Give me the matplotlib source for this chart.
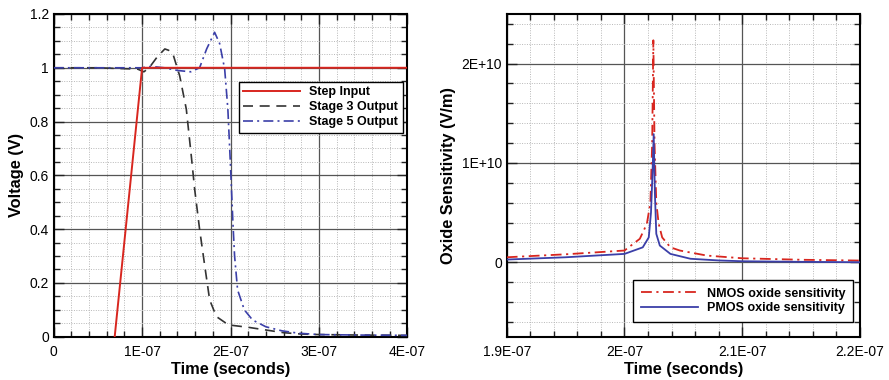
import matplotlib
matplotlib.use("Agg")
import matplotlib.pyplot as plt
from matplotlib.ticker import FixedLocator, MultipleLocator

plt.rcParams['font.family'] = ['Liberation Sans', 'DejaVu Sans']

# ---------------- data: left panel (Voltage vs time) ----------------
step_t = [6.9e-8, 1.0e-7, 4.0e-7]
step_v = [0.0, 1.0, 1.0]

stage3_t = [0.0, 0.5e-7, 0.95e-7, 1.02e-7, 1.08e-7, 1.17e-7, 1.257e-7, 1.30e-7, 1.35e-7,
            1.425e-7, 1.5e-7, 1.557e-7, 1.595e-7, 1.65e-7, 1.71e-7, 1.764e-7, 1.84e-7,
            1.95e-7, 2.0e-7, 2.2e-7, 2.4e-7, 2.6e-7, 2.8e-7, 3.0e-7, 3.5e-7, 4.0e-7]
stage3_v = [1.0, 1.0, 0.995, 0.985, 1.0, 1.04, 1.07, 1.065, 1.05,
            0.97, 0.846, 0.67, 0.547, 0.40, 0.26, 0.137, 0.075,
            0.05, 0.043, 0.035, 0.025, 0.015, 0.01, 0.008, 0.006, 0.005]

stage5_t = [0.0, 0.5e-7, 1.0e-7, 1.1e-7, 1.25e-7, 1.4e-7, 1.55e-7, 1.65e-7, 1.73e-7,
            1.82e-7, 1.877e-7, 1.934e-7, 1.97e-7, 2.0e-7, 2.027e-7, 2.046e-7, 2.08e-7,
            2.156e-7, 2.25e-7, 2.4e-7, 2.58e-7, 2.77e-7, 3.0e-7, 3.5e-7, 4.0e-7]
stage5_v = [1.0, 1.0, 1.0, 1.005, 1.0, 0.99, 0.985, 1.0, 1.07,
            1.132, 1.09, 0.995, 0.846, 0.634, 0.424, 0.30, 0.174,
            0.10, 0.062, 0.037, 0.022, 0.013, 0.008, 0.006, 0.005]

left_xticks = [0.0, 1e-7, 2e-7, 3e-7, 4e-7]
left_xlabels = ['0', '1E-07', '2E-07', '3E-07', '4E-07']
left_yticks = [0.0, 0.2, 0.4, 0.6, 0.8, 1.0, 1.2]
left_ylabels = ['0', '0.2', '0.4', '0.6', '0.8', '1', '1.2']

# ---------------- data: right panel (oxide sensitivity) ----------------
nmos_t = [1.9e-7, 1.95e-7, 2.0e-7, 2.013e-7, 2.019e-7, 2.022e-7, 2.0235e-7, 2.0245e-7,
          2.0255e-7, 2.027e-7, 2.029e-7, 2.032e-7, 2.039e-7, 2.047e-7, 2.07e-7,
          2.1e-7, 2.15e-7, 2.2e-7]
nmos_s = [0.05e10, 0.08e10, 0.118e10, 0.236e10, 0.387e10, 0.6e10, 1.2e10, 2.235e10,
          1.2e10, 0.6e10, 0.39e10, 0.25e10, 0.15e10, 0.118e10, 0.067e10,
          0.04e10, 0.025e10, 0.017e10]

pmos_t = [1.9e-7, 1.95e-7, 2.0e-7, 2.0155e-7, 2.0206e-7, 2.0225e-7, 2.0238e-7, 2.0248e-7,
          2.0258e-7, 2.027e-7, 2.030e-7, 2.039e-7, 2.056e-7, 2.08e-7, 2.1e-7, 2.15e-7, 2.2e-7]
pmos_s = [0.027e10, 0.05e10, 0.084e10, 0.15e10, 0.25e10, 0.5e10, 0.9e10, 1.29e10,
          0.7e10, 0.286e10, 0.168e10, 0.084e10, 0.035e10, 0.018e10, 0.01e10, 0.004e10, 0.0]

right_xticks = [1.9e-7, 2.0e-7, 2.1e-7, 2.2e-7]
right_xlabels = ['1.9E-07', '2E-07', '2.1E-07', '2.2E-07']
right_yticks = [0.0, 1e10, 2e10]
right_ylabels = ['0', '1E+10', '2E+10']

RED = '#d8261f'
GREY = '#333333'
BLUE = '#3b3fa8'

fig = plt.figure(figsize=(8.89, 3.80), dpi=100)
ax1 = fig.add_axes([0.0604, 0.1139, 0.3978, 0.8493])
ax2 = fig.add_axes([0.570, 0.1139, 0.3974, 0.8493])


def style(ax, xminor, yminor):
    ax.xaxis.set_minor_locator(MultipleLocator(xminor))
    ax.yaxis.set_minor_locator(MultipleLocator(yminor))
    ax.grid(which='major', color='#555555', linewidth=0.9, linestyle='-')
    ax.grid(which='minor', color='#b8b8b8', linewidth=0.7, linestyle=(0, (1, 1.5)))
    ax.set_axisbelow(True)
    for s in ax.spines.values():
        s.set_linewidth(1.5)
        s.set_color('black')
    ax.tick_params(which='both', direction='in', top=True, right=True,
                   labelsize=10, width=1.0, color='#222222')
    ax.tick_params(which='major', length=7)
    ax.tick_params(which='minor', length=4)
    ax.tick_params(axis='x', pad=6)


# left panel
ax1.plot(step_t, step_v, color=RED, lw=1.4, label='Step Input', zorder=4)
ax1.plot(stage3_t, stage3_v, color=GREY, lw=1.2, linestyle=(0, (6, 4)),
         label='Stage 3 Output', zorder=3)
ax1.plot(stage5_t, stage5_v, color=BLUE, lw=1.2, linestyle=(0, (6, 2.5, 1.2, 2.5)),
         label='Stage 5 Output', zorder=3)
ax1.set_xlim(0, 4e-7)
ax1.set_ylim(0, 1.2)
ax1.xaxis.set_major_locator(FixedLocator(left_xticks))
ax1.set_xticklabels(left_xlabels)
ax1.yaxis.set_major_locator(FixedLocator(left_yticks))
ax1.set_yticklabels(left_ylabels)
style(ax1, 2e-8, 0.05)
ax1.set_xlabel('Time (seconds)', fontsize=11.8, fontweight='bold', labelpad=2)
ax1.set_ylabel('Voltage (V)', fontsize=11.8, fontweight='bold', labelpad=4)
leg1 = ax1.legend(loc='upper left', bbox_to_anchor=(0.524, 0.79),
                  prop={'weight': 'bold', 'size': 9}, frameon=True, fancybox=False,
                  edgecolor='black', framealpha=1, handlelength=4.56, borderpad=0.35,
                  labelspacing=0.25, handletextpad=0.72, borderaxespad=0)
leg1.get_frame().set_linewidth(1.0)

# right panel
ax2.plot(nmos_t, nmos_s, color=RED, lw=1.3, linestyle=(0, (6, 2.5, 1.2, 2.5)),
         label='NMOS oxide sensitivity', zorder=3)
ax2.plot(pmos_t, pmos_s, color=BLUE, lw=1.3, label='PMOS oxide sensitivity', zorder=3)
ax2.set_xlim(1.9e-7, 2.2e-7)
ax2.set_ylim(-0.75e10, 2.5e10)
ax2.xaxis.set_major_locator(FixedLocator(right_xticks))
ax2.set_xticklabels(right_xlabels)
ax2.yaxis.set_major_locator(FixedLocator(right_yticks))
ax2.set_yticklabels(right_ylabels)
style(ax2, 2e-9, 0.2e10)
ax2.set_xlabel('Time (seconds)', fontsize=11.8, fontweight='bold', labelpad=2)
ax2.set_ylabel('Oxide Sensitivity (V/m)', fontsize=11.8, fontweight='bold', labelpad=4)
leg2 = ax2.legend(loc='lower left', bbox_to_anchor=(0.358, 0.046),
                  prop={'weight': 'bold', 'size': 9}, frameon=True, fancybox=False,
                  edgecolor='black', framealpha=1, handlelength=4.56, borderpad=0.6,
                  labelspacing=0.2, handletextpad=0.72, borderaxespad=0)
leg2.get_frame().set_linewidth(1.0)

fig.savefig('out.png', dpi=100)
